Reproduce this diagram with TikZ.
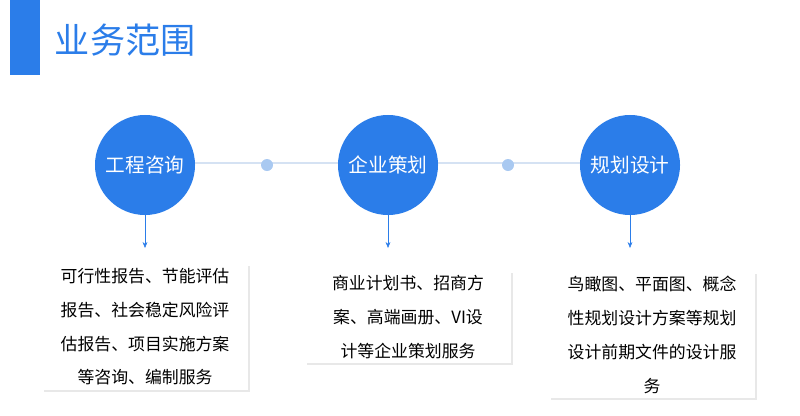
\documentclass[tikz,border=0pt]{standalone}
\usepackage{fontspec}
\setmainfont{Noto Sans CJK SC}
\usetikzlibrary{positioning,shadows,arrows.meta}
\definecolor{mainblue}{HTML}{2B7DE9}
\definecolor{lineblue}{HTML}{D5E2F3}
\definecolor{dotblue}{HTML}{A9C9F1}
\begin{document}
\begin{tikzpicture}[x=0.025cm,y=-0.025cm,
   topic/.style={circle,fill=mainblue,text=white,minimum size=2.5cm,inner sep=0pt,font=\fontsize{14}{14}\selectfont},
   dot/.style={circle,fill=dotblue,minimum size=0.3cm,inner sep=0pt},
   card/.style={rectangle,fill=white,drop shadow={opacity=0.18,shadow xshift=0.5mm,shadow yshift=-0.5mm},
    text width=4.9cm,align=center,inner sep=0.12cm,font=\fontsize{12}{24}\selectfont},
   link/.style={mainblue,-{Stealth[length=1.5mm,width=1.2mm]},line width=0.4pt}
    ]
  \useasboundingbox (0,0) rectangle (800,415);

  % -- title
  \fill[mainblue] (10,0) rectangle (40,75);
  \node[anchor=west,text=mainblue,font=\fontsize{25}{25}\selectfont] (title) at (50,40) {业务范围};

  % -- timeline
  \coordinate (l0) at (145,163);
  \coordinate (l1) at (630,163);
  \draw[lineblue,line width=0.8pt] (l0) -- (l1);
  \node[dot] at (267,165) (d1) {};
  \node[dot] at (508,165) (d2) {};

  % -- topics
  \node[topic] at (145,165) (t1) {工程咨询};
  \node[topic] at (388,165) (t2) {企业策划};
  \node[topic] at (630,165) (t3) {规划设计};

  % -- cards
  \node[card] at (145,327) (c1) {可行性报告、节能评估\\报告、社会稳定风险评\\估报告、项目实施方案\\等咨询、编制服务};
  \node[card] at (408,317) (c2) {商业计划书、招商方\\案、高端画册、VI设\\计等企业策划服务};
  \node[card] at (652,335) (c3) {鸟瞰图、平面图、概念\\性规划设计方案等规划\\设计前期文件的设计服\\务};

  \coordinate (a1) at (145,248);
  \coordinate (a2) at (388,248);
  \coordinate (a3) at (630,248);
  \draw[link] (t1) -- (a1);
  \draw[link] (t2) -- (a2);
  \draw[link] (t3) -- (a3);
\end{tikzpicture}
\end{document}
